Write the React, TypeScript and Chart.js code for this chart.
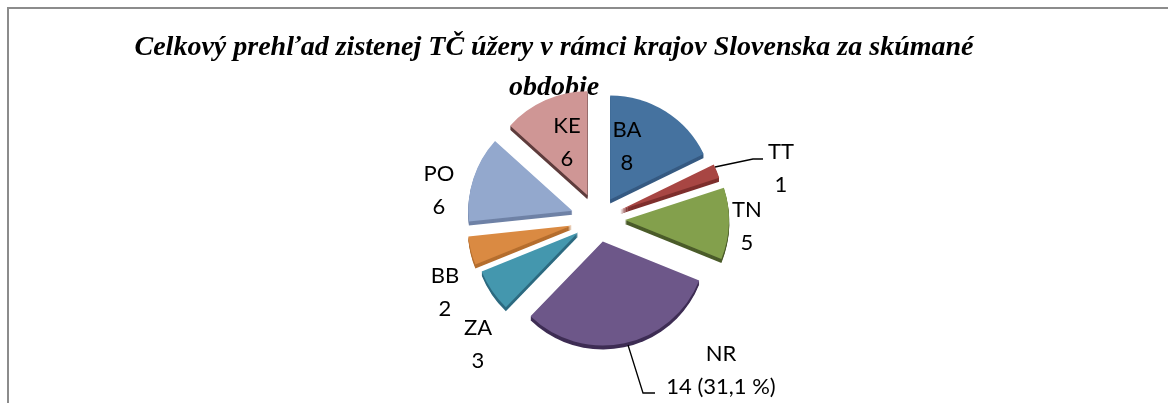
import React, { useEffect, useRef } from "react";
import { Chart, registerables } from "chart.js";

Chart.register(...registerables);

const titleLines = [
  "Celkový prehľad zistenej TČ úžery v rámci krajov Slovenska za skúmané",
  "obdobie",
];
const regions = ["BA", "TT", "TN", "NR", "ZA", "BB", "PO", "KE"];
const cases = [8, 1, 5, 14, 3, 2, 6, 6];
const valueTexts = ["8", "1", "5", "14 (31,1 %)", "3", "2", "6", "6"];

const faceColors = ["#45729f", "#a84643", "#83a04c", "#6d5789", "#4497ae", "#da8a42", "#93a8cd", "#cf9695"];
const sideColors = ["#365a82", "#7e2f2d", "#4b5c2a", "#3e2d54", "#2c6a80", "#b56e2e", "#6f82a6", "#5e3c3c"];
const explodeBySlice = [23, 24, 27, 23, 24, 27, 27, 26];

// Centre of each label's name line, and of its value line, in page pixels.
const labelPlaces: [number, number, number, number][] = [
  [627, 130, 627, 163],
  [781, 152, 781, 185],
  [747, 210, 747, 243],
  [721, 354, 721, 387],
  [478, 328, 478, 361],
  [445, 276, 445, 309],
  [439, 174, 439, 207],
  [567, 126, 567, 159],
];
const leaderLines = [
  [[715, 167], [753, 159], [763, 159]],
  [[628, 345], [643, 393], [655, 393]],
];

const DEPTH = 4;
const LABEL_FONT = '22px Lato, "Open Sans", sans-serif';

const piePlugin = {
  id: "explodedPie",
  afterLayout(chart: any) {
    const t = chart.titleBlock;
    if (t) {
      t.left -= 44;
      t.right -= 44;
    }
  },
  afterDatasetsUpdate(chart: any) {
    chart.getDatasetMeta(0).data.forEach((arc: any, i: number) => {
      const mid = (arc.startAngle + arc.endAngle) / 2;
      arc.x += Math.cos(mid) * explodeBySlice[i];
      arc.y += Math.sin(mid) * explodeBySlice[i];
    });
  },
  beforeDatasetsDraw(chart: any) {
    const ctx = chart.ctx;
    ctx.save();
    chart.getDatasetMeta(0).data.forEach((arc: any, i: number) => {
      ctx.fillStyle = sideColors[i];
      for (let d = DEPTH; d >= 1; d--) {
        ctx.beginPath();
        ctx.moveTo(arc.x, arc.y + d);
        ctx.arc(arc.x, arc.y + d, arc.outerRadius, arc.startAngle, arc.endAngle);
        ctx.closePath();
        ctx.fill();
      }
    });
    ctx.restore();
  },
  afterDatasetsDraw(chart: any) {
    const ctx = chart.ctx;
    ctx.save();
    ctx.strokeStyle = "#000";
    ctx.lineWidth = 1.3;
    leaderLines.forEach((pts) => {
      ctx.beginPath();
      pts.forEach(([x, y], i) => (i ? ctx.lineTo(x, y) : ctx.moveTo(x, y)));
      ctx.stroke();
    });
    ctx.fillStyle = "#000";
    ctx.font = LABEL_FONT;
    ctx.textAlign = "center";
    ctx.textBaseline = "middle";
    regions.forEach((r, i) => {
      const [nx, ny, vx, vy] = labelPlaces[i];
      ctx.fillText(r, nx, ny);
      ctx.fillText(valueTexts[i], vx, vy);
    });
    ctx.restore();
  },
};

export default function App() {
  const ref = useRef<HTMLCanvasElement>(null);
  useEffect(() => {
    const chart = new Chart(ref.current!, {
      type: "pie",
      data: {
        labels: regions,
        datasets: [{ data: cases, backgroundColor: faceColors, borderWidth: 0, radius: 104 } as any],
      },
      options: {
        responsive: false,
        animation: false,
        layout: { padding: { left: 28, bottom: 73 } },
        plugins: {
          legend: { display: false },
          tooltip: { enabled: false },
          title: {
            display: true,
            text: titleLines,
            color: "#000",
            font: { family: '"Liberation Serif", serif', size: 28, weight: "bold", style: "italic", lineHeight: 40 / 28 },
            padding: { top: 28, bottom: 0 },
          },
        },
      },
      plugins: [piePlugin],
    });
    return () => chart.destroy();
  }, []);
  return (
    <div style={{ position: "fixed", left: 0, top: 0, width: 1168, height: 403, background: "#fff", overflow: "hidden" }}>
      <div
        style={{
          position: "absolute",
          left: 7,
          top: 7,
          right: 0,
          bottom: 0,
          borderTop: "2px solid #8c8c8c",
          borderLeft: "2px solid #8c8c8c",
        }}
      />
      <canvas ref={ref} width={1168} height={403} style={{ position: "absolute", left: 0, top: 0 }} />
    </div>
  );
}
